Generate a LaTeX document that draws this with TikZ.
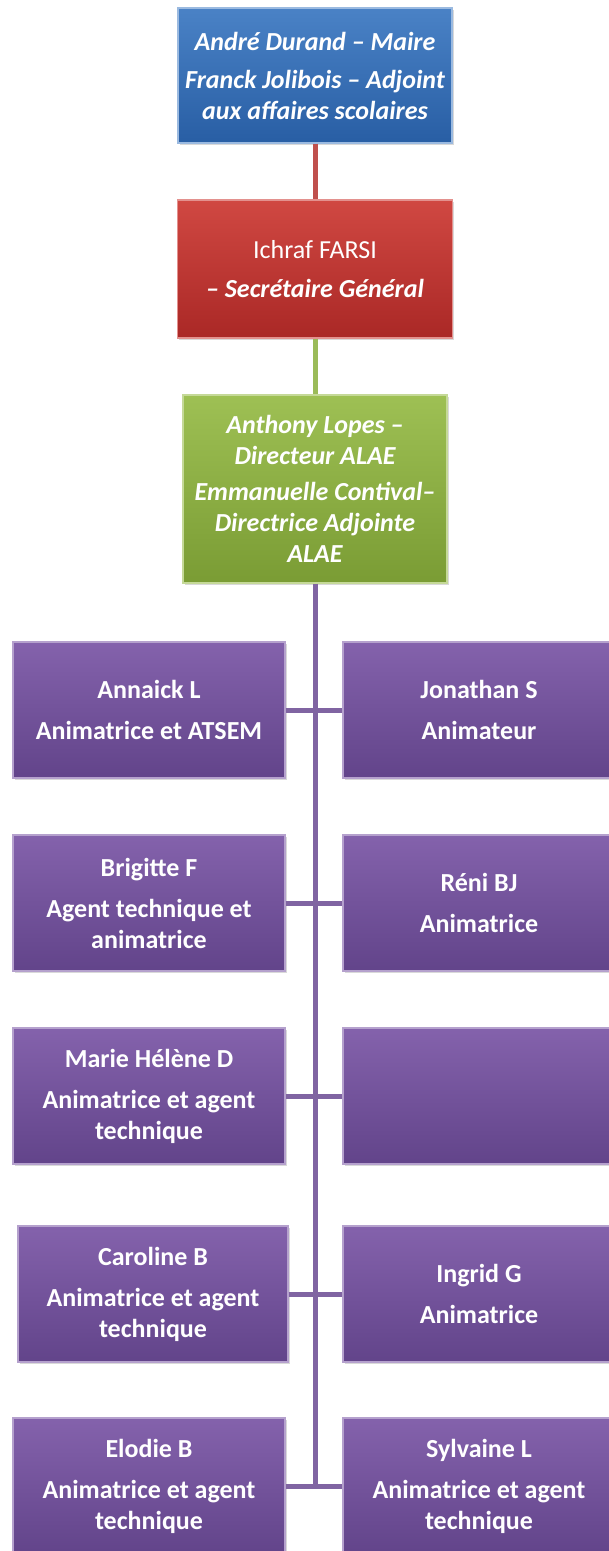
\documentclass[tikz,border=0pt]{standalone}
\usepackage{fontspec}
\setmainfont{Carlito}
\usetikzlibrary{positioning,shadows}

\definecolor{bleuhaut}{RGB}{74,130,198}
\definecolor{bleubas}{RGB}{40,94,164}
\definecolor{rougehaut}{RGB}{208,72,66}
\definecolor{rougebas}{RGB}{170,40,38}
\definecolor{verthaut}{RGB}{158,192,84}
\definecolor{vertbas}{RGB}{122,156,52}
\definecolor{violethaut}{RGB}{132,98,172}
\definecolor{violetbas}{RGB}{98,68,138}
\definecolor{traitrouge}{RGB}{192,80,77}
\definecolor{traitvert}{RGB}{155,187,89}
\definecolor{traitviolet}{RGB}{128,100,162}

\newcommand{\taille}{\fontsize{13pt}{15.5pt}\selectfont}

\tikzstyle{boite} = [rectangle, align=center, text=white, inner sep=2pt, line width=0.6pt, drop shadow={shadow xshift=0.8pt, shadow yshift=-1.2pt, opacity=0.3}]
\tikzstyle{maire} = [boite, minimum width=137pt, minimum height=67.5pt, top color=bleuhaut, bottom color=bleubas, draw=bleuhaut!55!white, font=\taille\bfseries\itshape]
\tikzstyle{secretaire} = [boite, minimum width=137.5pt, minimum height=69pt, top color=rougehaut, bottom color=rougebas, draw=rougehaut!60!white, font=\taille]
\tikzstyle{direction} = [boite, minimum width=132pt, minimum height=94pt, top color=verthaut, bottom color=vertbas, draw=verthaut!60!white, font=\taille\bfseries\itshape]
\tikzstyle{agent} = [boite, minimum width=136pt, minimum height=68pt, top color=violethaut, bottom color=violetbas, draw=violethaut!60!white, font=\taille\bfseries]
\tikzstyle{lienrouge} = [line width=2.5pt, traitrouge]
\tikzstyle{lienvert} = [line width=2.5pt, traitvert]
\tikzstyle{lienviolet} = [line width=2.5pt, traitviolet]
\def\ecart{5pt}

\begin{document}
\begin{tikzpicture}[node distance=96.5pt]
\useasboundingbox (0,0) rectangle (304.5pt,-775.5pt);

\node (maire) [maire] at (157.5pt,-37.75pt) {Andr\'e Durand -- Maire\\[3.5pt]Franck Jolibois -- Adjoint\\aux affaires scolaires};
\node (secretaire) [secretaire, below of=maire, yshift=-0.25pt] {Ichraf FARSI\\[4pt]{\bfseries\itshape -- Secr\'etaire G\'en\'eral}};
\draw [lienrouge] (maire) -- (secretaire);
\node (direction) [direction, below of=secretaire, yshift=-13.5pt] {Anthony Lopes --\\Directeur ALAE\\[2.5pt]Emmanuelle Contival--\\Directrice Adjointe\\ALAE};
\draw [lienvert] (secretaire) -- (direction);

% colonne de gauche
\node (annaick) [agent, below of=direction, xshift=-83pt, yshift=-14pt] {Annaick L\\[\ecart]Animatrice et ATSEM};
\node (brigitte) [agent, below of=annaick] {Brigitte F\\[\ecart]Agent technique et\\animatrice};
\node (marie) [agent, below of=brigitte] {Marie H\'el\`ene D\\[\ecart]Animatrice et agent\\technique};
\node (caroline) [agent, below of=marie, yshift=-2.5pt, xshift=2pt, minimum width=135pt] {Caroline B\\[\ecart]Animatrice et agent\\technique};
\node (elodie) [agent, below of=caroline, yshift=0.5pt, xshift=-2pt] {Elodie B\\[\ecart]Animatrice et agent\\technique};

% colonne de droite
\node (jonathan) [agent, below of=direction, xshift=82pt, yshift=-14pt] {Jonathan S\\[\ecart]Animateur};
\node (reni) [agent, below of=jonathan] {R\'eni BJ\\[\ecart]Animatrice};
\node (vide) [agent, below of=reni] {};
\node (ingrid) [agent, below of=vide, yshift=-2.5pt] {Ingrid G\\[\ecart]Animatrice};
\node (sylvaine) [agent, below of=ingrid, yshift=0.5pt] {Sylvaine L\\[\ecart]Animatrice et agent\\technique};

\coordinate (bas) at (direction.south |- elodie.east);
\draw [lienviolet] (direction.south) -- (bas);
\draw [lienviolet] (annaick) -- (jonathan);
\draw [lienviolet] (brigitte) -- (reni);
\draw [lienviolet] (marie) -- (vide);
\draw [lienviolet] (caroline) -- (ingrid);
\draw [lienviolet] (elodie) -- (sylvaine);

\end{tikzpicture}
\end{document}
